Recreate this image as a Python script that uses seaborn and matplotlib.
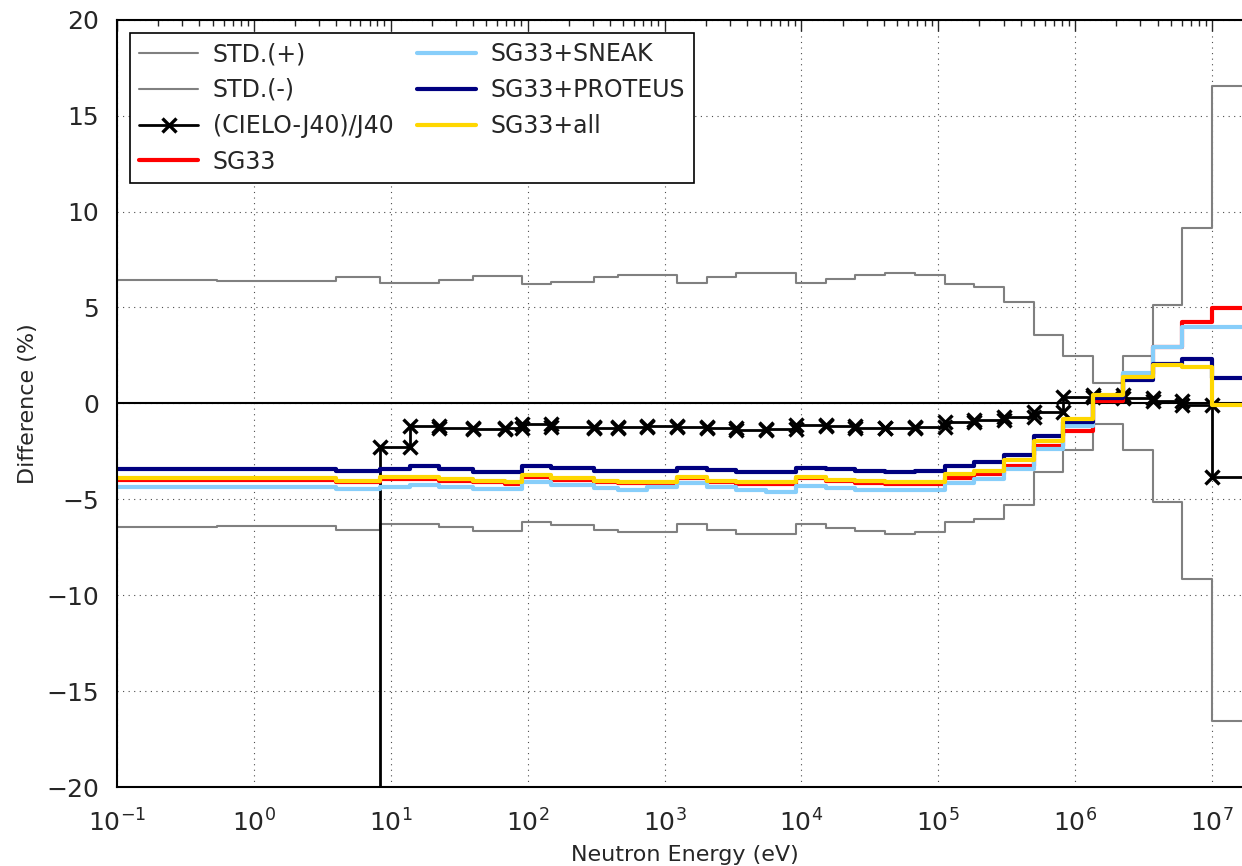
import numpy as np
import seaborn as sns
import matplotlib
matplotlib.use("Agg")
import matplotlib.pyplot as plt
from matplotlib.ticker import LogLocator, MultipleLocator

# ECCO 33-group boundaries (eV), ascending
e_bounds = [1.0e-5, 1.0e-1, 5.400e-1, 4.000e0, 8.315e0, 1.371e1, 2.260e1, 4.017e1,
            6.790e1, 9.166e1, 1.486e2, 3.043e2, 4.540e2, 7.485e2, 1.234e3, 2.035e3,
            3.355e3, 5.531e3, 9.119e3, 1.503e4, 2.479e4, 4.087e4, 6.738e4, 1.111e5,
            1.832e5, 3.020e5, 4.979e5, 8.209e5, 1.353e6, 2.231e6, 3.679e6, 6.065e6,
            1.000e7, 1.964e7]

std_plus = [6.45, 6.45, 6.4, 6.6, 6.3, 6.3, 6.45, 6.65, 6.65, 6.2, 6.35, 6.6, 6.7,
            6.7, 6.3, 6.6, 6.8, 6.8, 6.3, 6.5, 6.67, 6.8, 6.7, 6.2, 6.05, 5.3, 3.57,
            2.45, 1.05, 2.45, 5.13, 9.14, 16.55]
std_minus = [-6.45, -6.45, -6.4, -6.6, -6.3, -6.3, -6.45, -6.65, -6.65, -6.2, -6.35,
             -6.6, -6.7, -6.7, -6.3, -6.6, -6.8, -6.8, -6.3, -6.5, -6.67, -6.8, -6.7,
             -6.2, -6.05, -5.3, -3.57, -2.45, -1.05, -2.45, -5.13, -9.14, -16.55]
cielo = [-100.0, -100.0, -100.0, -100.0, -2.28, -1.2, -1.27, -1.34, -1.3, -1.05, -1.25,
         -1.3, -1.25, -1.2, -1.25, -1.3, -1.4, -1.35, -1.15, -1.17, -1.27, -1.3, -1.25,
         -0.95, -0.88, -0.7, -0.45, 0.35, 0.45, 0.3, 0.1, -0.1, -3.85]
sg33 = [-4.0, -4.0, -4.0, -4.12, -3.95, -3.92, -4.03, -4.12, -4.2, -3.82, -3.98, -4.1,
        -4.15, -4.15, -3.88, -4.08, -4.18, -4.2, -3.9, -4.05, -4.15, -4.2, -4.2, -3.9,
        -3.7, -3.27, -2.22, -1.44, 0.15, 1.55, 2.95, 4.23, 4.96]
sg33_sneak = [-4.34, -4.34, -4.34, -4.48, -4.34, -4.25, -4.34, -4.48, -4.48, -4.08,
              -4.27, -4.4, -4.5, -4.34, -4.13, -4.38, -4.51, -4.6, -4.31, -4.43, -4.51,
              -4.51, -4.51, -4.13, -3.94, -3.44, -2.38, -1.2, 0.35, 1.58, 2.96, 3.97, 3.97]
sg33_proteus = [-3.4, -3.4, -3.4, -3.5, -3.44, -3.28, -3.44, -3.56, -3.56, -3.28, -3.37,
                -3.52, -3.52, -3.52, -3.35, -3.47, -3.58, -3.58, -3.35, -3.44, -3.52,
                -3.59, -3.5, -3.25, -3.08, -2.7, -1.69, -0.95, 0.3, 1.22, 2.03, 2.33, 1.34]
sg33_all = [-3.9, -3.9, -3.9, -4.03, -3.85, -3.82, -3.94, -4.03, -4.11, -3.73, -3.9,
            -4.03, -4.08, -4.08, -3.82, -4.03, -4.11, -4.11, -3.82, -4.0, -4.06, -4.11,
            -4.08, -3.7, -3.5, -2.96, -1.94, -0.8, 0.45, 1.4, 2.0, 1.91, -0.09]

sns.set_style("white")
plt.rcParams["font.family"] = ["DejaVu Sans"]
plt.rcParams["mathtext.default"] = "regular"


def group_xy(values):
    # each group drawn flat from its lower to its upper boundary
    e = np.asarray(e_bounds)
    x = np.column_stack([e[:-1], e[1:]]).ravel()
    y = np.repeat(np.asarray(values, dtype=float), 2)
    return x, y


fig = plt.figure(figsize=(12.42, 8.66), dpi=100)
ax = fig.add_axes([0.0942, 0.0912, 0.914, 0.886])

series = [
    ("STD.(+)", std_plus, dict(color="#808080", lw=1.5)),
    ("STD.(-)", std_minus, dict(color="#808080", lw=1.5)),
    ("(CIELO-J40)/J40", cielo, dict(color="black", lw=2.0, marker="x", markersize=10,
                                    markeredgewidth=2.4, markeredgecolor="black")),
    ("SG33", sg33, dict(color="#ff0000", lw=3.0)),
    ("SG33+SNEAK", sg33_sneak, dict(color="#87cefa", lw=3.0)),
    ("SG33+PROTEUS", sg33_proteus, dict(color="#000080", lw=3.0)),
    ("SG33+all", sg33_all, dict(color="#ffd700", lw=3.0)),
]
for name, vals, style in series:
    x, y = group_xy(vals)
    sns.lineplot(x=x, y=y, estimator=None, sort=False, ax=ax, label=name, **style)

ax.axhline(0, color="black", lw=1.5, zorder=1)

ax.set_xscale("log")
ax.set_xlim(1e-1, 1.964e7)
ax.set_ylim(-20, 20)
ax.yaxis.set_major_locator(MultipleLocator(5))
ax.xaxis.set_major_locator(LogLocator(base=10, numticks=20))
ax.xaxis.set_minor_locator(LogLocator(base=10, subs=np.arange(2, 10), numticks=20))

ax.grid(True, which="major", color="black", linestyle=(0, (1, 4)), lw=0.8, alpha=0.7)
for s in ax.spines.values():
    s.set_linewidth(1.5)
    s.set_color("black")

ax.tick_params(axis="x", which="major", direction="in", top=True, length=8, width=1,
               labelsize=18, pad=16)
ax.tick_params(axis="x", which="minor", direction="in", top=True, length=4, width=1)
ax.tick_params(axis="y", which="major", direction="out", length=8, width=1,
               labelsize=18, pad=5)

ax.set_xlabel("Neutron Energy (eV)", fontsize=16, labelpad=6)
ax.set_ylabel("Difference (%)", fontsize=16, labelpad=6)

leg = ax.legend(loc="upper left", ncol=2, fontsize=17, frameon=True, fancybox=False,
                edgecolor="black", framealpha=1, handlelength=2.5, handletextpad=0.6,
                columnspacing=1.0, labelspacing=0.5, borderaxespad=0.55)
leg.get_frame().set_linewidth(1.2)

fig.savefig("out.png", dpi=100)
